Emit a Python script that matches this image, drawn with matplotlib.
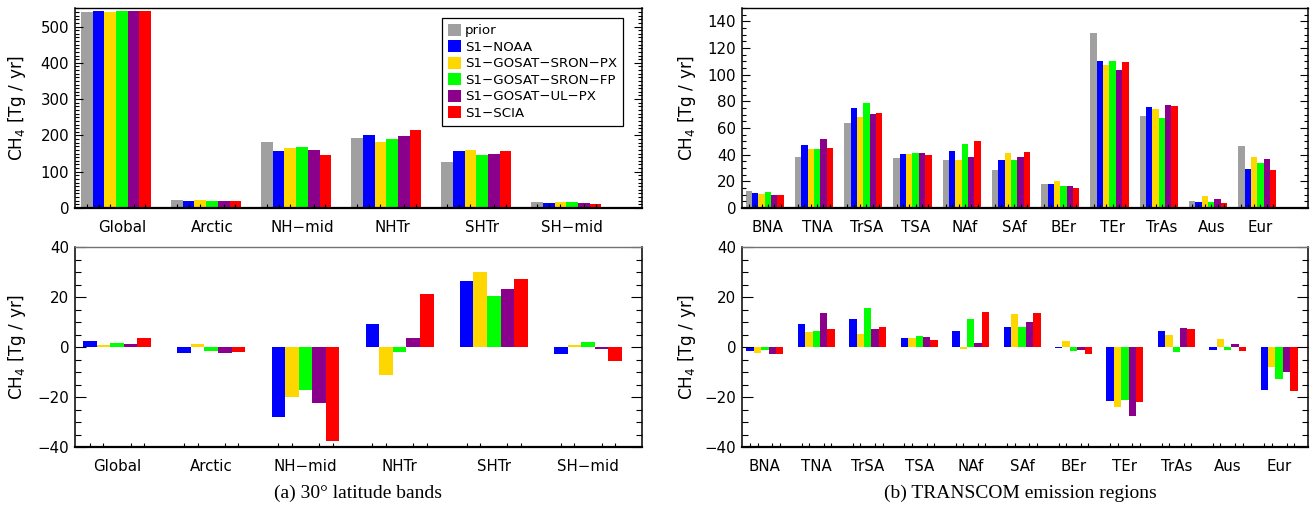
import numpy as np
import matplotlib
matplotlib.use('Agg')
import matplotlib.pyplot as plt
from matplotlib.ticker import MultipleLocator

# categories
bands = ['Global', 'Arctic', 'NH\u2212mid', 'NHTr', 'SHTr', 'SH\u2212mid']
regions = ['BNA', 'TNA', 'TrSA', 'TSA', 'NAf', 'SAf', 'BEr', 'TEr', 'TrAs', 'Aus', 'Eur']
names = ['prior', 'S1\u2212NOAA', 'S1\u2212GOSAT\u2212SRON\u2212PX', 'S1\u2212GOSAT\u2212SRON\u2212FP',
         'S1\u2212GOSAT\u2212UL\u2212PX', 'S1\u2212SCIA']
colors = ['#a0a0a0', '#0000ff', '#ffd700', '#00ff00', '#8b008b', '#ff0000']

# (a) emissions per latitude band [Tg/yr]
band_prior = [540, 21, 183, 194, 128, 16]
band_noaa = [543, 18, 156, 202, 156, 13]
band_px = [540, 21, 164, 183, 159, 16]
band_fp = [543, 18, 167, 191, 147, 16]
band_ul = [543, 18, 161, 197, 150, 13]
band_scia = [543, 18, 147, 216, 156, 10]

# (a) posterior - prior [Tg/yr]
dband_noaa = [2.4, -2.4, -28.0, 9.2, 26.4, -2.8]
dband_px = [0.8, 1.2, -20.0, -11.2, 30.0, 0.8]
dband_fp = [1.6, -1.6, -17.2, -2.0, 20.4, 2.0]
dband_ul = [1.2, -2.4, -22.4, 3.6, 23.2, -0.8]
dband_scia = [3.6, -2.0, -37.6, 21.2, 27.2, -5.6]

# (b) emissions per TRANSCOM region [Tg/yr]
reg_prior = [13, 38.5, 64, 37.8, 36.2, 28.8, 18.2, 131.5, 69.2, 5.5, 46.8]
reg_noaa = [11.5, 47.5, 75.2, 40.8, 43, 36.2, 18.2, 110.5, 76, 4.8, 29.5]
reg_px = [10.8, 44.5, 68.5, 40.8, 36.2, 41.5, 20.5, 107.5, 74.5, 9.2, 38.5]
reg_fp = [12.2, 44.5, 79, 41.5, 48.2, 36.2, 16.8, 110.5, 67.8, 4.8, 34]
reg_ul = [10, 52, 70.8, 41.5, 38.5, 38.5, 16.8, 103.8, 77.5, 7, 37]
reg_scia = [10, 45.2, 71.5, 40, 50.5, 42.2, 15.2, 109.8, 76.8, 4, 28.8]

# (b) posterior - prior [Tg/yr]
dreg_noaa = [-1.6, 9.2, 11.2, 3.6, 6.4, 8.0, -0.4, -21.6, 6.4, -1.2, -17.2]
dreg_px = [-2.4, 6.0, 5.2, 3.6, -0.8, 13.2, 2.4, -24.0, 4.8, 3.2, -8.0]
dreg_fp = [-1.2, 6.4, 15.6, 4.4, 11.2, 8.0, -1.6, -21.2, -2.0, -1.2, -12.8]
dreg_ul = [-2.8, 13.6, 7.2, 4.0, 1.6, 10.0, -1.2, -27.6, 7.6, 1.2, -10.0]
dreg_scia = [-2.8, 7.2, 8.0, 2.8, 14.0, 13.6, -2.8, -22.0, 7.2, -1.6, -17.6]

plt.rcParams['font.family'] = 'DejaVu Sans'
plt.rcParams['mathtext.fontset'] = 'dejavusans'

W, H = 1314, 509
fig = plt.figure(figsize=(W / 100, H / 100), dpi=100)


def box(x0, y0, x1, y1):
    # pixel box -> figure fraction
    return [x0 / W, 1 - y1 / H, (x1 - x0) / W, (y1 - y0) / H]


def panel(ax, labels, data, cols, bw, xlim, ylim, major, minor, top, names=None):
    n = len(data)
    x = np.arange(len(labels))
    centers = []
    for i in range(n):
        xc = x - n * bw / 2 + bw * (i + 0.5)
        ax.bar(xc, data[i], bw, color=cols[i], linewidth=0,
               label=names[i] if names else None)
        centers.extend(xc)
    ax.set_xlim(xlim)
    ax.set_ylim(ylim)
    # labels slightly right of group centre in the upper panels
    off = 0.065 if top else 0.0
    ax.set_xticks(x + off)
    ax.set_xticklabels(labels, fontsize=10.8)
    ax.set_xticks(centers, minor=True)
    ax.tick_params(axis='x', which='major', length=0, pad=8.5)
    ax.tick_params(axis='x', which='minor', direction='in', length=2.9, width=0.8)
    ax.yaxis.set_major_locator(MultipleLocator(major))
    ax.yaxis.set_minor_locator(MultipleLocator(minor))
    if top:
        ax.tick_params(axis='y', which='major', direction='in', length=5.8, width=0.8,
                       right=True, labelsize=10.8, pad=4.3)
        ax.tick_params(axis='y', which='minor', direction='in', length=2.9, width=0.8, right=True)
    else:
        ax.tick_params(axis='y', which='major', direction='in', length=7.9, width=0.8,
                       right=True, labelsize=10.8, pad=4.3)
        ax.tick_params(axis='y', which='minor', direction='in', length=4.3, width=0.8, right=True)
    ax.spines['bottom'].set_linewidth(1.6)
    ax.spines['left'].set_linewidth(1.1)
    ax.spines['right'].set_linewidth(1.1)
    ax.spines['top'].set_linewidth(1.0)
    if not top:
        ax.spines['top'].set_color('0.45')
    ax.set_ylabel('CH$_4$ [Tg / yr]', fontsize=12.2)


ax1 = fig.add_axes(box(75, 8, 642, 208))
panel(ax1, bands, [band_prior, band_noaa, band_px, band_fp, band_ul, band_scia], colors,
      0.13, (-0.456, 5.84), (0, 551), 100, 10, True, names)
ax1.yaxis.set_label_coords(-0.083, 0.5)
leg = ax1.legend(loc='upper right', bbox_to_anchor=(0.966, 0.9515), fontsize=9.6,
                 fancybox=False, framealpha=1, edgecolor='black', borderpad=0.45,
                 handlelength=1.0, handleheight=1.0, handletextpad=0.25, labelspacing=0.22,
                 borderaxespad=0)
leg.get_frame().set_linewidth(0.9)

ax2 = fig.add_axes(box(742, 8, 1308, 208))
panel(ax2, regions, [reg_prior, reg_noaa, reg_px, reg_fp, reg_ul, reg_scia], colors,
      0.129, (-0.461, 11.03), (0, 150), 20, 5, True)
ax2.yaxis.set_label_coords(-0.078, 0.5)

ax3 = fig.add_axes(box(75, 247, 642, 447))
panel(ax3, bands, [dband_noaa, dband_px, dband_fp, dband_ul, dband_scia], colors[1:],
      0.144, (-0.446, 5.573), (-40, 40), 20, 5, False)
ax3.yaxis.set_label_coords(-0.083, 0.5)

ax4 = fig.add_axes(box(742, 247, 1308, 447))
panel(ax4, regions, [dreg_noaa, dreg_px, dreg_fp, dreg_ul, dreg_scia], colors[1:],
      0.144, (-0.446, 10.56), (-40, 40), 20, 5, False)
ax4.yaxis.set_label_coords(-0.078, 0.5)

fig.text(358 / W, 1 - 493 / H, '(a) 30\u00b0 latitude bands', ha='center', va='center',
         family='Liberation Serif', fontsize=14)
fig.text(1020 / W, 1 - 493 / H, '(b) TRANSCOM emission regions', ha='center', va='center',
         family='Liberation Serif', fontsize=14)

fig.savefig('out.png', dpi=100)
